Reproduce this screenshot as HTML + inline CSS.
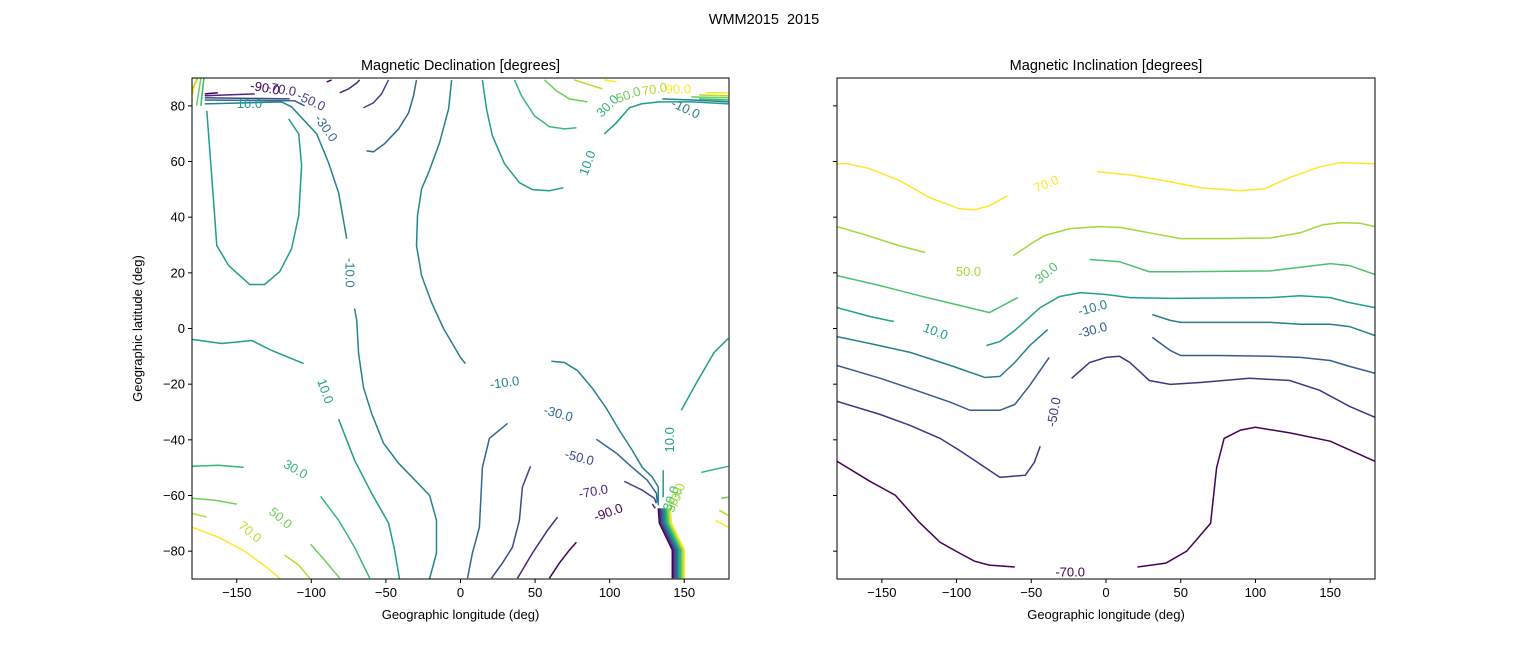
<!DOCTYPE html>
<html><head><meta charset="utf-8">
<style>
body{margin:0;background:#fff;}
svg text{font-family:"Liberation Sans","DejaVu Sans",sans-serif;}
</style></head>
<body>
<svg id="fig" width="1528" height="651" xmlns="http://www.w3.org/2000/svg">
<rect width="1528" height="651" fill="#fff"/>
<text x="764" y="24" font-size="14.5" text-anchor="middle">WMM2015&#160; 2015</text>
<g id="left"></g>
<g id="right"></g>
</svg>
<script>
// ---- Declination data (lon, lat) ----
const declLevels = [-90,-70,-50,-30,-10,10,30,50,70,90];
const declColors = ["#440154","#482878","#3e4989","#31688e","#26828e","#1f9e89","#35b779","#6ece58","#b5de2b","#fde725"];
const declSegLevels = [10,-10,-10,-90,-70,-50,-30,-90,-70,-50,-30,-10,10,10,-10,30,50,70,90,90,70,50,30,
  10,10,30,30,50,50,70,70,90,-10,-30,-30,-50,-50,-70,-70,-90,10,10,30,50,70,90];
const declSegPoints = [
 [[-170.1,78.2],[-166.8,54.9],[-163.4,29.8],[-155.4,22.6],[-141.3,15.8],[-131.3,15.8],[-121.2,20.4],[-113.2,28.7],[-108.5,40.5],[-106.5,58.5],[-108.5,69.9],[-115.2,75.3]],
 [[-171.4,80.7],[-119.9,81.4],[-113.2,79.6],[-96.4,69.9],[-88.4,59.5],[-81.7,48.8],[-76.3,32.3]],
 [[-71,7.2],[-69.6,2.9],[-68.3,-9],[-65,-21.2],[-59.6,-30.5],[-51.6,-41.2],[-41.5,-48.4],[-20.8,-59.9],[-16.1,-68.9],[-16.1,-80.7],[-20.8,-90]],
 [[-171.4,84.3],[-162.7,84.7]],
 [[-171.4,83.6],[-138,84.3]],
 [[-171.4,82.9],[-114.5,82.5]],
 [[-171.4,82.1],[-111.2,81.8],[-104.5,80]],
 [[-89.7,88.6],[-86.4,89.3]],
 [[-81,84.7],[-75,86.1],[-69.6,88.2],[-67.6,89.3]],
 [[-65,79.3],[-58.3,81.1],[-52.9,84.3],[-49.6,87.9],[-48.2,89.3]],
 [[-63,63.8],[-58.3,63.5],[-50.9,66.4],[-41.5,71.7],[-34.8,77.5],[-31.5,83.6],[-29.5,89.3]],
 [[-6,89.3],[-8,78.9],[-14.1,66.7],[-21.4,56],[-26.1,50.2],[-28.8,40.5],[-29.5,29.8],[-26.1,19],[-19.4,9.3],[-11.4,0],[0,-10.4],[3.3,-12.6]],
 [[14.7,89.3],[17.4,78.9],[21.4,69.2],[29.5,59.2],[39.5,52.4],[48.2,49.9],[59.6,49.5],[69,50.6]],
 [[96.4,69.9],[104.5,73.9],[113.2,79.3],[121.2,80.7],[133.3,81.4],[155.4,81.4],[179.5,80.7]],
 [[135.3,82.5],[155.4,82.1],[179.5,81.4]],
 [[36.2,89.3],[40.9,83.6],[49.6,76.4],[59.6,72.5],[69.6,71.7],[77.7,72.1]],
 [[56.3,89.3],[64.3,85.4],[73,82.5],[85,81.4]],
 [[76.3,89.3],[84.4,87.9],[95.1,86.1]],
 [[96.4,89.3],[104.5,88.6]],
 [[164.7,84.7],[179.5,84.7]],
 [[160,83.9],[179.5,83.6]],
 [[154.7,83.2],[179.5,82.9]],
 [[160,82.5],[179.5,82.1]],
 [[-180,-3.9],[-160,-5.4],[-140,-4.3],[-126.6,-7.9],[-115.2,-10.4],[-105.1,-12.6]],
 [[-81.7,-32.6],[-71,-47.3],[-59.6,-59.2],[-48.2,-69.9],[-44.2,-79.6],[-40.9,-90]],
 [[-180,-49.5],[-162.1,-49.1],[-145.3,-49.9]],
 [[-93.8,-60.3],[-81.7,-68.9],[-71,-78.6],[-60.9,-89.7]],
 [[-180,-61],[-164.7,-61.7],[-150,-63.1]],
 [[-100.5,-77.5],[-91.1,-83.2],[-81,-89.7]],
 [[-180,-66.4],[-170.1,-67.8]],
 [[-117.9,-81.4],[-108.5,-85],[-101.1,-89.7]],
 [[-180,-71.4],[-162.1,-75],[-144.7,-80],[-131.9,-85],[-121.2,-89.7]],
 [[60.9,-11.8],[69.6,-12.2],[78.4,-15.1],[88.4,-21.5],[97.8,-28.7],[106.5,-36.6],[115.2,-43.8],[121.9,-49.9],[128.6,-53.4],[132.6,-57],[132.6,-63.5]],
 [[31.5,-34.1],[19.4,-39.5],[14.7,-49.9],[12.7,-71.4],[8,-80.7],[4.7,-89.7]],
 [[91.1,-39.8],[104.5,-44.8],[115.2,-49.9],[125.2,-54.5],[131.3,-59.2],[131.9,-62.4]],
 [[46.9,-49.5],[41.5,-57],[39.5,-68.9],[34.8,-78.6],[28.1,-84.3],[20.8,-89.7]],
 [[109.8,-54.9],[121.9,-58.1],[129.9,-61],[131.3,-62.8]],
 [[65,-67.8],[58.3,-72.5],[48.2,-80.7],[38.2,-89.7]],
 [[128.6,-63.1],[130.6,-64.6]],
 [[77.7,-76.8],[73,-79.6],[66.3,-84.3],[59.6,-89.7]],
 [[135.9,-50.9],[135.9,-60.6]],
 [[148,-29.4],[158,-19.7],[170.1,-8.6],[179.5,-3.6]],
 [[161.4,-51.7],[179.5,-49.5]],
 [[174.8,-61],[179.5,-60.6]],
 [[173.5,-65.3],[179.5,-67.1]],
 [[170.8,-68.9],[179.5,-71.4]]
];
const declBundle = [[132.6,-64.6],[133.3,-69.9],[142,-79.6],[142,-89.7]];
const declCorner = [[[-180,84],[-177,90]],[[-180,86],[-176,90]],[[-177,80],[-174,90]],[[-174,80],[-172,90]]];
const declLabelText = ["-90.0","-70.0","-50.0","-30.0","10.0","-10.0","10.0","30.0","50.0","70.0","90.0","-10.0","10.0","30.0","50.0","70.0","-10.0","-30.0","-50.0","-70.0","-90.0","10.0","30.0","50.0","70.0"];
const declLabelLevel = [-90,-70,-50,-30,10,-10,10,30,50,70,90,-10,10,30,50,70,-10,-30,-50,-70,-90,10,30,50,70];
const declLabelPos = [[-131,86.5],[-120,86],[-100,81.8],[-90,72],[-141.5,80.8],[-74,20],[-90.5,-22.5],[-110.5,-50.5],[-120.5,-68],[-141,-73],[146,86],[151,79],[85,59.5],[98.5,80],[112.5,84],[130,86],[29.5,-19.4],[65.6,-30.5],[79.7,-46.3],[89,-58.5],[99,-66],[140,-40],[141,-61],[143,-61.5],[145,-60]];
const declLabelRot = [10,10,25,55,0,90,70,30,40,40,0,25,-70,-45,-20,-10,-8,15,15,-10,-20,-90,-70,-70,-70];

// ---- Inclination data ----
const inclLevels = [-70,-50,-30,-10,10,30,50,70];
const inclColors = ["#440154","#46327e","#365c8d","#277f8e","#1fa187","#4ac16d","#a0da39","#fde725"];
const inclSegLevels = [70,70,50,50,30,30,10,10,-10,-10,-30,-30,-50,-50,-70,-70];
const inclSegPoints = [
 [[-180,59.2],[-173,59.2],[-158,57.4],[-138,53.1],[-118,47],[-98,43],[-88,42.7],[-78,44.1],[-66,47.7]],
 [[-6,56.3],[16,55.2],[43,52.7],[63,50.6],[90,49.5],[106,50.2],[123,54.2],[143,58.1],[157,59.6],[180,59.2]],
 [[-180,36.6],[-160,33.5],[-140,30],[-121,27.3]],
 [[-62,26.2],[-50,30.5],[-41,33.4],[-24,35.9],[-5,36.6],[10,36.3],[29,34.4],[50,32.3],[80,32.3],[110,32.5],[130,34.4],[145,37.3],[157,38],[170,37.8],[180,36.6]],
 [[-180,19],[-151,15.4],[-125,11.8],[-98,8.3],[-78,5.7],[-59,11.1]],
 [[-11,24.8],[9,24],[29,20.4],[50,20.4],[110,20.7],[130,22],[150,23.3],[163,22.6],[180,19.4]],
 [[-180,7.5],[-158,4.3],[-142,2.5]],
 [[-80,-6.1],[-71,-4.7],[-61,-0.7],[-44,7.5],[-31,11.5],[-17,12.9],[0,12.2],[16,11.1],[43,10.8],[110,11.1],[130,11.8],[150,11.1],[163,9.3],[180,7.5]],
 [[-180,-2.9],[-158,-5.4],[-131,-8.6],[-104,-13.3],[-81,-17.6],[-71,-17.2],[-61,-12.2],[-51,-6.1],[-39,-0.4]],
 [[31,5],[43,2.9],[50,2.2],[110,2.2],[130,1.5],[150,1.5],[163,0.7],[180,-2.5]],
 [[-180,-13.3],[-151,-17.9],[-125,-22.6],[-104,-26.5],[-91,-29.4],[-71,-29.4],[-61,-27.3],[-51,-20.4],[-38,-10.4]],
 [[31,-3.2],[43,-7.9],[50,-9.7],[76,-9.7],[110,-10],[130,-10.4],[150,-11.5],[163,-13.6],[180,-16.1]],
 [[-180,-26.2],[-151,-30.9],[-131,-34.8],[-111,-39.5],[-98,-43.8],[-81,-49.9],[-71,-53.5],[-54,-52.7],[-48,-48.1],[-44,-42.3]],
 [[-23,-17.9],[-17,-15.1],[-11,-12.2],[0,-10.4],[9,-10],[16,-12.2],[29,-18.7],[43,-20.1],[63,-19.4],[96,-17.9],[123,-18.7],[143,-22.2],[163,-28],[180,-31.9]],
 [[-180,-47.7],[-158,-54.9],[-141,-59.9],[-125,-69.6],[-111,-76.8],[-98,-80.7],[-88,-83.6],[-78,-85],[-61,-85.7]],
 [[21,-85.7],[40,-84.3],[54,-80],[70,-70],[72,-60],[74,-50],[79,-39.5],[90,-36.5],[100,-35.5],[123,-37.5],[150,-40.5],[180,-47.7]]
];
const inclLabelText = ["70.0","50.0","30.0","10.0","-10.0","-30.0","-50.0","-70.0"];
const inclLabelLevel = [70,50,30,10,-10,-30,-50,-70];
const inclLabelPos = [[-40,52],[-92,20.5],[-40,20],[-114,-1],[-9,7.5],[-9,-0.5],[-35,-30],[-24,-87.5]];
const inclLabelRot = [-22,0,-40,20,-15,-15,-80,0];

const xTicks = [-150,-100,-50,0,50,100,150];
const yTicks = [-80,-60,-40,-20,0,20,40,60,80];

const NS="http://www.w3.org/2000/svg";
function mk(tag, attrs, parent){const e=document.createElementNS(NS,tag);for(const k in attrs)e.setAttribute(k,attrs[k]);parent.appendChild(e);return e;}

function panel(gid, x0, x1, yTop, yBot, showY, title, segLevels, segPts, levels, colors, lblText, lblLevel, lblPos, lblRot){
  const g=document.getElementById(gid);
  const sx=v=>x0+(v+180)/360*(x1-x0);
  const sy=v=>yBot-(v+90)/180*(yBot-yTop);
  const col=l=>colors[levels.indexOf(l)];
  const clip='clip-'+gid;
  const cp=mk('clipPath',{id:clip},g); mk('rect',{x:x0,y:yTop,width:x1-x0,height:yBot-yTop},cp);
  const lines=mk('g',{'clip-path':'url(#'+clip+')'},g);
  segPts.forEach((pts,i)=>{
    const p=mk('polyline',{points:pts.map(q=>sx(q[0]).toFixed(1)+','+sy(q[1]).toFixed(1)).join(' '),fill:'none',stroke:col(segLevels[i]),'stroke-width':1.5},lines);
    
    
  });
  if(gid==='left'){
    levels.forEach((l,i)=>{
      const p=mk('polyline',{points:declBundle.map(q=>sx(q[0]+i*0.9).toFixed(1)+','+sy(q[1]).toFixed(1)).join(' '),fill:'none',stroke:colors[i],'stroke-width':1.5},lines);
      
      
    });
    declCorner.forEach((pts,i)=>{
      const p=mk('polyline',{points:pts.map(q=>sx(q[0]).toFixed(1)+','+sy(q[1]).toFixed(1)).join(' '),fill:'none',stroke:colors[9-i],'stroke-width':1.5},lines);
      
      
    });
  }
  lblText.forEach((t,i)=>{
    const x=sx(lblPos[i][0]), y=sy(lblPos[i][1]);
    const e=mk('text',{x:x,y:y,'font-size':13,'text-anchor':'middle','dominant-baseline':'central',fill:col(lblLevel[i]),transform:'rotate('+lblRot[i]+' '+x+' '+y+')'},g);
    e.textContent=t;
    
    
  });
  const fr=mk('rect',{x:x0,y:yTop,width:x1-x0,height:yBot-yTop,fill:'none',stroke:'#000','stroke-width':1},g);
  
  
  xTicks.forEach(v=>{
    const x=sx(v);
    mk('line',{x1:x,x2:x,y1:yBot,y2:yBot+4,stroke:'#000'},g);
    const t=mk('text',{x:x,y:yBot+18,'font-size':13,'text-anchor':'middle'},g);
    t.textContent=v<0?'\u2212'+(-v):String(v);
    
    
  });
  yTicks.forEach(v=>{
    const y=sy(v);
    mk('line',{x1:x0-4,x2:x0,y1:y,y2:y,stroke:'#000'},g);
    if(showY){
      const t=mk('text',{x:x0-7,y:y+4.5,'font-size':13,'text-anchor':'end'},g);
      t.textContent=v<0?'\u2212'+(-v):String(v);
      
      
    }
  });
  const tt=mk('text',{x:(x0+x1)/2,y:yTop-8,'font-size':14.5,'text-anchor':'middle'},g);
  tt.textContent=title;
  
  
  const xl=mk('text',{x:(x0+x1)/2,y:yBot+40,'font-size':13,'text-anchor':'middle'},g);
  xl.textContent='Geographic longitude (deg)';
  
  
  if(showY){
    const yl=mk('text',{x:142,y:(yTop+yBot)/2,'font-size':13,'text-anchor':'middle',transform:'rotate(-90 142 '+((yTop+yBot)/2)+')'},g);
    yl.textContent='Geographic latitude (deg)';
    
    
  }
}
panel('left',192,729,78,579,true,'Magnetic Declination [degrees]',declSegLevels,declSegPoints,declLevels,declColors,declLabelText,declLabelLevel,declLabelPos,declLabelRot);
panel('right',837,1375,78,579,false,'Magnetic Inclination [degrees]',inclSegLevels,inclSegPoints,inclLevels,inclColors,inclLabelText,inclLabelLevel,inclLabelPos,inclLabelRot);
</script>
</body></html>
